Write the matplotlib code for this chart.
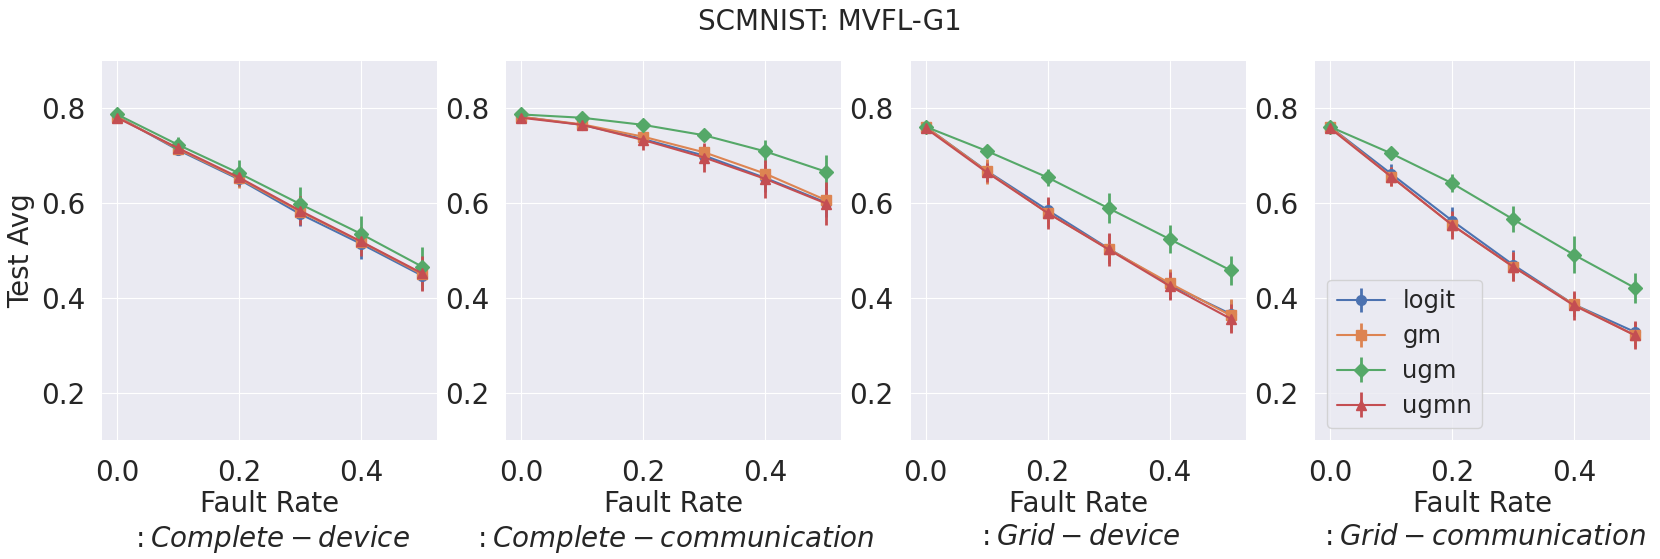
import numpy as np
import matplotlib
matplotlib.use("Agg")
import matplotlib.pyplot as plt

plt.style.use("seaborn-v0_8-darkgrid")
plt.rcParams["font.family"] = ["DejaVu Sans"]
plt.rcParams["mathtext.fontset"] = "dejavusans"

# data ----------------------------------------------------------->
fault_rate = [0.0, 0.1, 0.2, 0.3, 0.4, 0.5]
methods = ["logit", "gm", "ugm", "ugmn"]
panel_names = ["Complete-device", "Complete-communication", "Grid-device", "Grid-communication"]

# Complete - device
cd_mean = {
    "logit": [0.783, 0.712, 0.650, 0.577, 0.514, 0.447],
    "gm":    [0.782, 0.714, 0.652, 0.582, 0.518, 0.450],
    "ugm":   [0.787, 0.723, 0.663, 0.598, 0.535, 0.466],
    "ugmn":  [0.780, 0.716, 0.654, 0.584, 0.519, 0.452],
}
cd_err = {
    "logit": [0.003, 0.010, 0.012, 0.025, 0.032, 0.030],
    "gm":    [0.003, 0.008, 0.020, 0.015, 0.020, 0.030],
    "ugm":   [0.003, 0.017, 0.028, 0.036, 0.038, 0.041],
    "ugmn":  [0.003, 0.010, 0.018, 0.030, 0.030, 0.037],
}

# Complete - communication
cc_mean = {
    "logit": [0.782, 0.765, 0.735, 0.700, 0.653, 0.601],
    "gm":    [0.782, 0.766, 0.740, 0.707, 0.662, 0.606],
    "ugm":   [0.787, 0.780, 0.765, 0.743, 0.709, 0.666],
    "ugmn":  [0.780, 0.765, 0.733, 0.696, 0.651, 0.599],
}
cc_err = {
    "logit": [0.002, 0.006, 0.010, 0.020, 0.030, 0.030],
    "gm":    [0.002, 0.006, 0.010, 0.015, 0.020, 0.020],
    "ugm":   [0.002, 0.005, 0.008, 0.013, 0.025, 0.035],
    "ugmn":  [0.002, 0.008, 0.020, 0.030, 0.040, 0.045],
}

# Grid - device
gd_mean = {
    "logit": [0.761, 0.668, 0.585, 0.504, 0.428, 0.366],
    "gm":    [0.761, 0.667, 0.579, 0.503, 0.431, 0.363],
    "ugm":   [0.761, 0.710, 0.654, 0.589, 0.524, 0.458],
    "ugmn":  [0.758, 0.665, 0.579, 0.502, 0.425, 0.356],
}
gd_err = {
    "logit": [0.003, 0.020, 0.025, 0.030, 0.030, 0.030],
    "gm":    [0.003, 0.026, 0.030, 0.030, 0.030, 0.035],
    "ugm":   [0.003, 0.008, 0.018, 0.032, 0.030, 0.031],
    "ugmn":  [0.003, 0.020, 0.033, 0.034, 0.030, 0.030],
}

# Grid - communication
gc_mean = {
    "logit": [0.761, 0.662, 0.563, 0.470, 0.386, 0.328],
    "gm":    [0.761, 0.656, 0.554, 0.466, 0.386, 0.321],
    "ugm":   [0.761, 0.705, 0.642, 0.566, 0.491, 0.421],
    "ugmn":  [0.758, 0.656, 0.554, 0.466, 0.384, 0.321],
}
gc_err = {
    "logit": [0.003, 0.020, 0.029, 0.030, 0.025, 0.020],
    "gm":    [0.003, 0.020, 0.025, 0.030, 0.025, 0.025],
    "ugm":   [0.003, 0.010, 0.019, 0.028, 0.039, 0.031],
    "ugmn":  [0.003, 0.020, 0.030, 0.031, 0.031, 0.030],
}

means = [cd_mean, cc_mean, gd_mean, gc_mean]
errs = [cd_err, cc_err, gd_err, gc_err]

colors = {"logit": "#4C72B0", "gm": "#DD8452", "ugm": "#55A868", "ugmn": "#C44E52"}
markers = {"logit": "o", "gm": "s", "ugm": "D", "ugmn": "^"}

# plot ------------------------------------------------------------>
fig, axes = plt.subplots(1, 4, figsize=(16.6, 5.59), dpi=100)
fig.subplots_adjust(left=0.0614, right=0.994, bottom=0.213, top=0.891, wspace=0.206)

for i, ax in enumerate(axes):
    for m in methods:
        ax.errorbar(fault_rate, means[i][m], yerr=errs[i][m],
                    color=colors[m], marker=markers[m], markersize=7,
                    linewidth=1.5, elinewidth=2, label=m)
    ax.set_ylim(0.1, 0.9)
    ax.set_xticks([0.0, 0.2, 0.4])
    ax.set_yticks([0.2, 0.4, 0.6, 0.8])
    ax.tick_params(axis="x", labelsize=20, length=0, pad=14, labelcolor=".15")
    ax.tick_params(axis="y", labelsize=20, length=0, pad=12, labelcolor=".15")
    ax.set_xlabel("Fault Rate\n$:" + panel_names[i] + "$", fontsize=20,
                  color=".15", labelpad=2)

axes[0].set_ylabel("Test Avg", fontsize=20, color=".15")
axes[3].legend(loc="lower left", fontsize=17.5, frameon=True, handletextpad=0.7,
               labelspacing=0.45)

fig.suptitle("SCMNIST: MVFL-G1", fontsize=20, y=0.961, va="center", color=".15")

plt.savefig("out.png")
